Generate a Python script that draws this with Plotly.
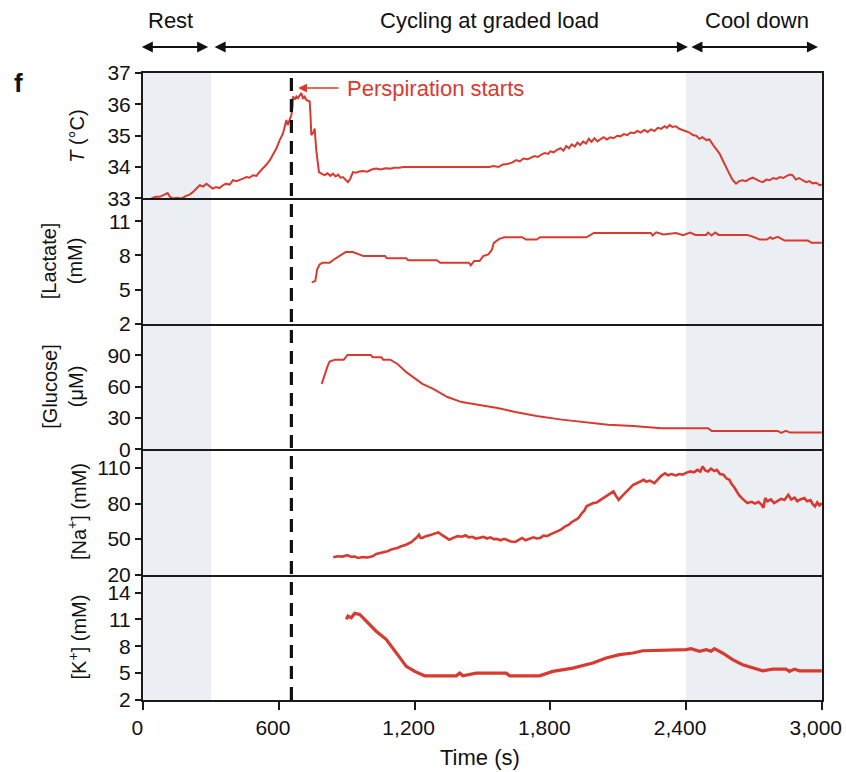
import plotly.graph_objects as go
from plotly.subplots import make_subplots

# ---------------- data ----------------
t_time = [36, 55, 73, 90, 108, 118, 130, 150, 169, 190, 205, 219, 235, 250, 265, 279, 292, 307, 322, 337,
          352, 367, 382, 397, 412, 426, 441, 456, 470, 485, 500, 515, 529, 545, 560, 575, 589, 603, 618, 626,
          633, 639, 648, 655, 660, 662, 670, 677, 684, 692, 699, 706, 714, 721, 728, 736, 740, 743, 752, 758,
          765, 777, 790, 802, 815, 827, 839, 850, 862, 872, 883, 895, 905, 915, 927, 940, 955, 971, 990, 1010,
          1030, 1050, 1070, 1090, 1110, 1133, 1150, 1530, 1550, 1570, 1590, 1610, 1630, 1649, 1665, 1680, 1700,
          1715, 1730, 1745, 1760, 1775, 1790, 1800, 1815, 1830, 1845, 1858, 1870, 1882, 1895, 1908, 1920, 1932,
          1945, 1958, 1970, 1982, 1995, 2008, 2020, 2035, 2050, 2065, 2080, 2095, 2110, 2125, 2140, 2155, 2170,
          2185, 2200, 2215, 2230, 2245, 2260, 2275, 2290, 2305, 2315, 2327, 2340, 2355, 2370, 2385, 2400, 2415,
          2430, 2445, 2459, 2472, 2490, 2503, 2520, 2535, 2548, 2560, 2575, 2591, 2605, 2621, 2635, 2650, 2665,
          2680, 2695, 2710, 2725, 2739, 2755, 2770, 2785, 2800, 2815, 2830, 2845, 2860, 2871, 2885, 2900, 2915,
          2931, 2945, 2960, 2975, 2992, 3000]
t_vals = [33.0, 33.05, 33.05, 33.1, 33.17, 33.05, 33.0, 33.02, 33.0, 33.08, 33.12, 33.2, 33.3, 33.42, 33.38,
          33.47, 33.4, 33.31, 33.36, 33.33, 33.42, 33.47, 33.44, 33.58, 33.55, 33.6, 33.63, 33.68, 33.66, 33.74,
          33.72, 33.85, 33.95, 34.08, 34.22, 34.4, 34.6, 34.85, 35.07, 35.3, 35.5, 35.34, 35.5, 35.66, 35.9,
          36.25, 36.15, 36.25, 36.2, 36.3, 36.36, 36.2, 36.25, 36.14, 36.12, 36.09, 35.6, 35.02, 35.1, 35.23,
          34.54, 33.84, 33.78, 33.74, 33.8, 33.72, 33.79, 33.7, 33.76, 33.66, 33.68, 33.6, 33.52, 33.62, 33.84,
          33.82, 33.86, 33.87, 33.85, 33.92, 33.95, 33.92, 33.96, 33.95, 33.98, 33.98, 34.0, 34.0, 34.03, 34.0,
          34.08, 34.1, 34.14, 34.22, 34.18, 34.27, 34.25, 34.3, 34.35, 34.32, 34.4, 34.45, 34.42, 34.5, 34.47,
          34.55, 34.6, 34.52, 34.67, 34.6, 34.72, 34.65, 34.78, 34.7, 34.82, 34.75, 34.9, 34.8, 34.92, 34.82,
          34.88, 34.95, 34.88, 34.95, 34.92, 35.0, 34.98, 35.05, 35.02, 35.1, 35.08, 35.15, 35.1, 35.18, 35.12,
          35.2, 35.15, 35.25, 35.22, 35.3, 35.25, 35.34, 35.28, 35.3, 35.22, 35.18, 35.12, 35.1, 35.02, 35.0,
          34.9, 34.95, 34.86, 34.88, 34.7, 34.55, 34.43, 34.25, 34.0, 33.79, 33.6, 33.47, 33.55, 33.58, 33.55,
          33.62, 33.66, 33.6, 33.55, 33.52, 33.6, 33.58, 33.65, 33.62, 33.68, 33.65, 33.72, 33.76, 33.74, 33.6,
          33.65, 33.58, 33.52, 33.55, 33.48, 33.5, 33.42, 33.45]

lac_time = [745, 761, 769, 780, 793, 824, 840, 856, 875, 895, 927, 950, 974, 1069, 1077, 1163, 1171, 1298,
            1313, 1440, 1448, 1463, 1487, 1503, 1526, 1542, 1550, 1574, 1597, 1676, 1692, 1739, 1755, 1960,
            1992, 2244, 2252, 2268, 2300, 2355, 2387, 2418, 2442, 2489, 2497, 2513, 2529, 2544, 2671, 2702,
            2726, 2757, 2773, 2781, 2805, 2836, 2939, 2955, 3000]
lac_vals = [5.63, 5.77, 6.78, 7.2, 7.36, 7.36, 7.6, 7.8, 8.1, 8.29, 8.29, 8.1, 7.94, 7.94, 7.74, 7.74, 7.57,
            7.57, 7.36, 7.36, 7.13, 7.5, 7.5, 7.94, 8.09, 8.52, 9.1, 9.45, 9.59, 9.59, 9.39, 9.39, 9.59, 9.59,
            9.97, 9.97, 9.74, 10.03, 9.83, 9.97, 9.77, 10.0, 9.8, 9.8, 10.0, 9.74, 10.0, 9.8, 9.8, 9.59, 9.39,
            9.39, 9.59, 9.45, 9.62, 9.3, 9.3, 9.1, 9.1]

glu_time = [789, 800, 816, 824, 848, 887, 903, 1006, 1014, 1053, 1061, 1092, 1124, 1163, 1203, 1234, 1282,
            1345, 1408, 1487, 1566, 1645, 1739, 1850, 1945, 2055, 2166, 2292, 2497, 2513, 2805, 2821, 2841,
            2860, 3000]
glu_vals = [62.5, 70.5, 80.0, 83.8, 85.7, 85.7, 90.2, 90.2, 88.0, 88.0, 85.7, 85.7, 81.6, 73.7, 67.3, 62.5,
            57.8, 49.9, 45.1, 42.6, 39.4, 35.6, 31.8, 28.3, 26.1, 23.5, 22.3, 20.0, 20.0, 17.5, 17.5, 15.6,
            17.5, 15.9, 15.9]

na_time = [840, 860, 880, 903, 920, 935, 950, 970, 990, 1014, 1030, 1045, 1061, 1080, 1100, 1124, 1140, 1160,
           1175, 1187, 1200, 1210, 1219, 1226, 1234, 1250, 1270, 1290, 1305, 1320, 1335, 1353, 1370, 1390,
           1410, 1424, 1440, 1455, 1470, 1487, 1505, 1520, 1535, 1550, 1566, 1580, 1595, 1610, 1625, 1645,
           1660, 1675, 1690, 1708, 1725, 1740, 1755, 1770, 1785, 1800, 1818, 1835, 1850, 1866, 1880, 1895,
           1913, 1925, 1940, 1950, 1960, 1975, 1990, 2005, 2023, 2040, 2055, 2065, 2079, 2090, 2102, 2115,
           2130, 2145, 2155, 2166, 2180, 2195, 2213, 2225, 2240, 2260, 2275, 2290, 2307, 2320, 2335, 2355,
           2370, 2385, 2400, 2418, 2435, 2450, 2463, 2473, 2485, 2497, 2510, 2525, 2536, 2550, 2565, 2580,
           2592, 2600, 2612, 2623, 2635, 2650, 2671, 2690, 2705, 2720, 2734, 2742, 2750, 2760, 2775, 2789,
           2805, 2820, 2835, 2852, 2865, 2880, 2892, 2905, 2923, 2935, 2950, 2960, 2970, 2980, 2990, 3000]
na_vals = [34.7, 35.5, 35.2, 36.4, 35.0, 35.3, 34.1, 34.8, 34.5, 35.5, 37.5, 38.0, 39.1, 39.8, 41.5, 42.5,
           44.0, 45.0, 46.5, 47.6, 50.0, 51.5, 53.7, 51.0, 51.0, 52.5, 53.5, 54.5, 55.7, 53.5, 51.5, 49.5,
           51.0, 52.5, 52.0, 53.2, 51.5, 52.0, 50.5, 51.0, 51.8, 50.5, 51.5, 50.0, 50.1, 49.0, 50.2, 49.2,
           48.0, 47.6, 49.5, 51.0, 49.0, 50.4, 51.5, 50.5, 51.0, 53.0, 52.5, 54.0, 55.2, 57.0, 58.5, 60.8,
           62.0, 64.5, 66.4, 68.0, 72.0, 74.0, 77.7, 79.0, 80.5, 81.0, 83.2, 85.0, 87.0, 88.5, 90.3, 86.5,
           83.2, 86.0, 89.0, 92.5, 94.5, 95.9, 97.0, 98.5, 100.1, 98.5, 99.5, 97.3, 100.5, 103.5, 105.7, 104.0,
           105.0, 103.8, 105.0, 104.5, 106.0, 107.2, 106.5, 108.5, 107.0, 111.4, 108.0, 107.2, 109.5, 107.5,
           108.5, 105.0, 104.5, 101.0, 100.1, 97.0, 94.0, 90.3, 87.0, 84.0, 80.5, 81.5, 80.0, 81.5, 79.0, 76.5,
           84.7, 82.0, 83.5, 80.5, 82.5, 84.0, 83.0, 87.5, 83.5, 85.0, 81.9, 83.5, 84.7, 82.0, 83.0, 79.5,
           77.7, 81.0, 78.5, 80.5]

k_time = [898, 905, 920, 935, 957, 986, 1030, 1075, 1133, 1163, 1200, 1244, 1384, 1399, 1413, 1472, 1605,
          1620, 1752, 1811, 1899, 1988, 2047, 2106, 2165, 2209, 2400, 2422, 2459, 2489, 2511, 2525, 2561,
          2606, 2650, 2695, 2739, 2783, 2842, 2857, 2879, 2901, 3000]
k_vals = [11.0, 11.37, 11.19, 11.67, 11.56, 10.8, 9.68, 8.75, 6.8, 5.75, 5.19, 4.7, 4.7, 5.0, 4.7, 5.0, 5.0,
          4.7, 4.7, 5.19, 5.56, 6.13, 6.69, 7.06, 7.25, 7.5, 7.62, 7.73, 7.44, 7.62, 7.44, 7.73, 7.25, 6.5,
          5.94, 5.56, 5.26, 5.45, 5.45, 5.19, 5.45, 5.26, 5.26]

x_ticks = [0, 600, 1200, 1800, 2400, 3000]
x_ticktext = ["0", "600", "1,200", "1,800", "2,400", "3,000"]

panels = [
    dict(x=t_time, y=t_vals, rng=[33, 37], ticks=[33, 34, 35, 36, 37], title="<i>T</i> (°C)", w=2),
    dict(x=lac_time, y=lac_vals, rng=[2, 13], ticks=[2, 5, 8, 11], title="[Lactate]<br>(mM)", w=2),
    dict(x=glu_time, y=glu_vals, rng=[0, 120], ticks=[0, 30, 60, 90], title="[Glucose]<br>(μM)", w=2),
    dict(x=na_time, y=na_vals, rng=[20, 126], ticks=[20, 50, 80, 110], title="[Na<sup>+</sup>] (mM)", w=2.6),
    dict(x=k_time, y=k_vals, rng=[2, 16], ticks=[2, 5, 8, 11, 14], title="[K<sup>+</sup>] (mM)", w=3.2),
]

rest_end = 300
cool_start = 2400
x_end = 3000
perspiration_t = 655

RED = "#D93A30"
SHADE = "#EBEFF3"
AX = "#1a1a1a"
FONT = "Liberation Sans, Arial, Helvetica, sans-serif"

fig = make_subplots(rows=5, cols=1, shared_xaxes=True, vertical_spacing=0)

for i, p in enumerate(panels, start=1):
    fig.add_trace(go.Scatter(x=p["x"], y=p["y"], mode="lines",
                             line=dict(color=RED, width=p["w"]), hoverinfo="skip"),
                  row=i, col=1)
    fig.update_yaxes(range=p["rng"], tickvals=p["ticks"], ticks="outside", ticklen=6, tickwidth=1.5,
                     tickcolor=AX, showline=True, mirror=True, linecolor=AX, linewidth=2,
                     showgrid=False, zeroline=False, tickfont=dict(size=21, color="#111"),
                     automargin=False, row=i, col=1)
    fig.update_xaxes(range=[-1, x_end + 1], showline=True, mirror=(i == 1), linecolor=AX, linewidth=2,
                     showgrid=False, zeroline=False, automargin=False, row=i, col=1)
    yid = "y" if i == 1 else f"y{i}"
    two_line = "<br>" in p["title"]
    fig.add_annotation(text=p["title"], textangle=-90, xref="paper", yref=f"{yid} domain",
                       x=-0.119 if two_line else -0.097, y=0.5, xanchor="center", yanchor="middle",
                       showarrow=False, font=dict(size=20, color="#111"))

fig.update_xaxes(ticks="outside", ticklen=8, tickwidth=2, tickcolor=AX, tickvals=x_ticks,
                 ticktext=x_ticktext, showticklabels=True, ticklabeloverflow="allow",
                 ticklabelshift=-6, tickfont=dict(size=21, color="#111"), row=5, col=1)

# shaded phases
for x0, x1 in [(0, rest_end), (cool_start, x_end)]:
    fig.add_shape(type="rect", xref="x", yref="paper", x0=x0, x1=x1, y0=0, y1=1,
                  fillcolor=SHADE, line=dict(width=0), layer="below")

# perspiration dashed line
fig.add_shape(type="line", xref="x", yref="paper", x0=perspiration_t, x1=perspiration_t, y0=0, y1=1,
              line=dict(color="#111", width=3.2, dash="13px,8px"), layer="above")

# phase labels and double arrows
phase_labels = [("Rest", 0.0398), ("Cycling at graded load", 0.511), ("Cool down", 0.9043)]
for txt, xp in phase_labels:
    fig.add_annotation(text=txt, xref="paper", yref="paper", x=xp, y=1.0845, xanchor="center",
                       yanchor="middle", showarrow=False, font=dict(size=22, color="#111"))
phase_arrows = [(-13, 287), (309, 2408), (2417, 2983)]
for a0, a1 in phase_arrows:
    fig.add_annotation(text="", xref="x", yref="paper", x=a1, y=1.0415, axref="x", ax=a0,
                       ayref="pixel", ay=0, showarrow=True, arrowside="end+start", arrowhead=2,
                       arrowsize=1.1, arrowwidth=2, arrowcolor="#111", standoff=0, startstandoff=0)

# perspiration annotation
fig.add_annotation(text="", xref="x", yref="y", x=685, y=36.52, axref="x", ax=870, ayref="y", ay=36.52,
                   showarrow=True, arrowhead=2, arrowsize=1.1, arrowwidth=1.6, arrowcolor=RED,
                   standoff=0)
fig.add_annotation(text="Perspiration starts", xref="x", yref="y", x=893, y=36.52, xanchor="left",
                   yanchor="middle", showarrow=False, font=dict(size=22, color=RED))

# panel letter and x title
fig.add_annotation(text="<b>f</b>", xref="paper", yref="paper", x=-0.184, y=0.984, xanchor="center",
                   yanchor="middle", showarrow=False, font=dict(size=26, color="#111"))
fig.add_annotation(text="Time (s)", xref="paper", yref="paper", x=0.496, y=-0.091, xanchor="center",
                   yanchor="middle", showarrow=False, font=dict(size=22, color="#111"))

fig.update_layout(width=846, height=772, margin=dict(l=143, r=24, t=73, b=72, autoexpand=False),
                  plot_bgcolor="white", paper_bgcolor="white", showlegend=False,
                  font=dict(family=FONT, color="#111"))

fig.write_html("out.html")
